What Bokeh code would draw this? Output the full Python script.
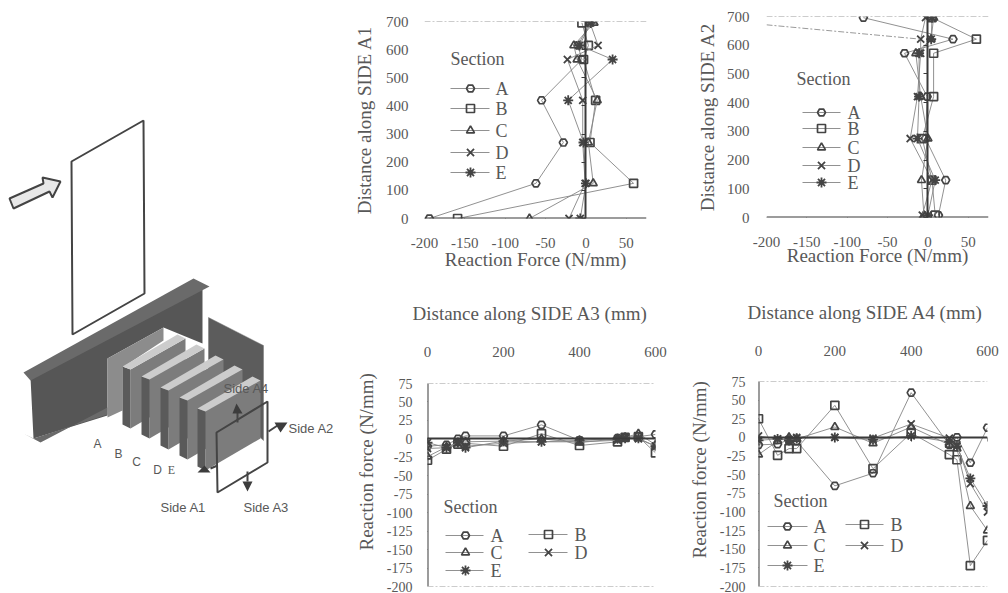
from bokeh.embed import file_html
from bokeh.resources import INLINE
from bokeh.plotting import figure
from bokeh.layouts import row, column
from bokeh.models import (LinearAxis, Range1d, FixedTicker, Span, Title)
from bokeh.core.properties import value

SECTIONS = ["A", "B", "C", "D", "E"]
MARKERS = ["hex", "square", "triangle", "x", "asterisk"]

# Panel A1
a1_y = [0, 125, 270, 420, 565, 615, 695]
a1_A = [-194, -62, -28, -55, -5, -10, 5]
a1_B = [-159, 59, 5, 12, -3, 3, -5]
a1_C = [-70, 9, 3, 14, -11, -15, 10]
a1_D = [-21, -1, -4, -4, -23, 15, 5]
a1_E = [-7, 0, -3, -22, 33, -8, 6]
# Panel A2
a2_y = [8, 130, 275, 421, 572, 621, 696]
a2_A = [13, 22, -3, -1, -29, 31, -80]
a2_B = [9, 5, -7, 7, 7, 60, 5]
a2_C = [-5, -8, 0, -9, -15, 4, 7]
a2_D = [-7, 5, -22, -13, -9, -9, -3]
a2_E = [0, 9, -13, -11, -11, 4, 5]
a2_off_x = [-200, -9]
a2_off_y = [671, 621]
# Panels A3, A4
side_x = [0, 50, 80, 100, 200, 300, 400, 500, 520, 555, 600]
a3_A = [-10, -8, 0, 4, 4, 19, -2, 1, 2, 3, 6]
a3_B = [-29, -14, -7, -6, -10, 7, -9, -4, 2, 3, -19]
a3_C = [-24, -11, -6, -4, -3, 0, -5, 0, 2, 7, -8]
a3_D = [-13, -12, -5, -10, -6, -4, -4, -2, 1, 0, -10]
a3_E = [-5, -12, -5, -12, -3, -4, -2, 0, 1, 1, -10]
a4_A = [-10, -9, -3, -5, -65, -48, 60, -10, 0, -34, 13]
a4_B = [25, -24, -15, -15, 43, -42, 6, -23, -30, -172, -138]
a4_C = [-23, -5, 0, -2, 14, -8, 14, -10, -15, -92, -125]
a4_D = [2, -2, -3, 0, 0, -1, 18, -1, -10, -62, -100]
a4_E = [-4, -2, -4, -1, 0, -3, 2, -6, -12, -55, -92]

A1_SERIES = [a1_A, a1_B, a1_C, a1_D, a1_E]
A2_SERIES = [a2_A, a2_B, a2_C, a2_D, a2_E]
A3_SERIES = [a3_A, a3_B, a3_C, a3_D, a3_E]
A4_SERIES = [a4_A, a4_B, a4_C, a4_D, a4_E]

force_ticks = [-200, -150, -100, -50, 0, 50]
dist_ticks = [0, 100, 200, 300, 400, 500, 600, 700]
side_ticks = [0, 200, 400, 600]
react_ticks = list(range(-200, 76, 25))

SERIF = "Liberation Serif"
SANS = "Liberation Sans"
TXT = "#585858"
AX = "#3a3a3a"
LN = "#858585"
MK = "#444444"
BG = "#ffffff"


def base(left, fw, right, top, fh, bottom, xr, yr):
    p = figure(width=left + fw + right, height=top + fh + bottom,
               frame_width=fw, frame_height=fh,
               x_range=Range1d(*xr), y_range=Range1d(*yr),
               x_axis_type=None, y_axis_type=None,
               toolbar_location=None, output_backend="svg",
               min_border_left=left, min_border_right=right,
               min_border_top=top, min_border_bottom=bottom,
               background_fill_color=BG, border_fill_color=BG,
               outline_line_color=None, frame_align=False)
    p.grid.visible = False
    return p


def label_axis(ticks, size, standoff, title=None, title_size="19px", title_standoff=4):
    ax = LinearAxis(ticker=FixedTicker(ticks=ticks), axis_line_color=None,
                    major_tick_line_color=None, minor_tick_line_color=None,
                    major_tick_out=0, major_tick_in=0,
                    major_label_standoff=standoff,
                    major_label_overrides={t: str(t) for t in ticks},
                    major_label_text_font=SERIF,
                    major_label_text_font_size=size,
                    major_label_text_color=TXT)
    if title:
        ax.axis_label = title
        ax.axis_label_text_font = SERIF
        ax.axis_label_text_font_style = "normal"
        ax.axis_label_text_font_size = title_size
        ax.axis_label_text_color = TXT
        ax.axis_label_standoff = title_standoff
    return ax


def rule_axis(ticks, loc):
    return LinearAxis(ticker=FixedTicker(ticks=ticks), fixed_location=loc,
                      axis_line_color=AX, axis_line_width=2,
                      major_tick_line_color=AX, major_tick_line_width=1,
                      major_tick_out=4, major_tick_in=0,
                      minor_tick_line_color=None,
                      major_label_text_color=None,
                      major_label_text_font_size="1px",
                      major_label_standoff=0)


def marker_style(mk):
    big = mk in ("x", "asterisk")
    return dict(marker=mk, size=10 if big else 8, fill_color=None, line_color=MK,
                line_width=1.8 if big else 1.7)


def series(p, horizontal_x, series_list, y_fixed=None):
    for mk, vals in zip(MARKERS, series_list):
        if y_fixed is not None:
            xs, ys = vals, y_fixed
        else:
            xs, ys = horizontal_x, vals
        p.line(xs, ys, line_color=LN, line_width=0.9)
        p.scatter(xs, ys, **marker_style(mk))


def draw_legend(p, frame_left, frame_top, fw, fh, title_pos, entries):
    """Key drawn at page-pixel places: entries hold (x0, x1, xm, xl, y) per section."""
    xr, yr = p.x_range, p.y_range
    fx = lambda px: xr.start + (px - frame_left) * (xr.end - xr.start) / fw
    fy = lambda py: yr.end - (py - frame_top) * (yr.end - yr.start) / fh
    p.text([fx(title_pos[0])], [fy(title_pos[1])], text=["Section"], text_font=value(SERIF),
           text_font_size="18px", text_color=TXT, text_baseline="middle")
    for name, mk, (x0, x1, xm, xl, y) in zip(SECTIONS, MARKERS, entries):
        p.line([fx(x0), fx(x1)], [fy(y), fy(y)], line_color=LN, line_width=0.9)
        p.scatter([fx(xm)], [fy(y)], **marker_style(mk))
        p.text([fx(xl)], [fy(y)], text=[name], text_font=value(SERIF),
               text_font_size="18px", text_color=TXT, text_baseline="middle")


def dashed(p, loc):
    p.add_layout(Span(location=loc, dimension="width", line_color="#9a9a9a",
                      line_width=1, line_dash="6 2 2 2"))


def add_title(p, text, side, offset, standoff):
    p.add_layout(Title(text=text, align="left", offset=offset, standoff=standoff,
                       vertical_align="middle", text_font=SERIF, text_font_style="normal",
                       text_font_size="19px", text_color=TXT), side)


def vertical_panel(left, fw, right, top, fh, bottom, s_list, ys, side, tick_sd, ttl_sd, below_sd):
    p = base(left, fw, right, top, fh, bottom, (-200, 75), (0, 700))
    p.add_layout(label_axis(force_ticks, "15px", 19, "Reaction Force (N/mm)", "19px", below_sd), "below")
    p.add_layout(label_axis(dist_ticks, "15px", tick_sd, f"Distance along SIDE {side}", "19px", ttl_sd), "left")
    p.add_layout(rule_axis(force_ticks, 0), "below")
    p.add_layout(rule_axis(dist_ticks, 0), "left")
    dashed(p, 700)
    series(p, None, s_list, y_fixed=ys)
    return p


def horizontal_panel(left, fw, right, top, fh, bottom, s_list, side, tick_sd, top_sd, title_off, ylabel_off, ylabel_sd):
    p = base(left, fw, right, top, fh, bottom, (0, 600), (-200, 75))
    p.add_layout(label_axis(side_ticks, "15px", top_sd), "above")
    p.add_layout(label_axis(react_ticks, "14px", tick_sd), "left")
    p.add_layout(rule_axis(side_ticks, 0), "below")
    p.add_layout(rule_axis(react_ticks, 0), "left")
    dashed(p, 75)
    dashed(p, -200)
    series(p, side_x, s_list)
    add_title(p, f"Distance along SIDE {side} (mm)", "above", title_off, 38)
    add_title(p, "Reaction force (N/mm)", "left", ylabel_off, ylabel_sd)
    return p


# x, y in page pixels for the drawing on the left
panel_x = [71, 143, 144, 72]
panel_y = [161, 120, 293, 334]
arrow_x = [9, 43, 42, 60, 52, 49, 13]
arrow_y = [198, 183, 177, 181, 197, 191, 208]
web_x = [30, 202, 202, 163, 107, 107, 33]
web_y = [377, 287, 343, 327, 358, 415, 438]
tf_x = [23, 193, 209, 30]
tf_y = [372, 278, 286, 380]
bf_x = [23, 40, 107, 107, 33]
bf_y = [433, 442, 407, 414, 438]
stiffA_x = [107, 163, 163, 122, 122, 107]
stiffA_y = [358, 327, 340, 367, 410, 417]
backp_x = [208, 263, 263, 208]
backp_y = [317, 345, 440, 390]
stiff_origin_x = [122, 141, 160, 179, 197]
stiff_origin_y = [366, 376, 387, 397, 408]
load_x = [216, 267, 267, 217]
load_y = [432, 401, 462, 492]


def illustration():
    p = figure(width=345, height=593, x_range=Range1d(0, 345), y_range=Range1d(593, 0),
               x_axis_type=None, y_axis_type=None, toolbar_location=None,
               output_backend="svg", min_border=0, outline_line_color=None,
               background_fill_color=BG, border_fill_color=BG, frame_align=False)
    p.grid.visible = False
    p.patch(panel_x, panel_y, fill_color=None, line_color="#444444", line_width=2)
    p.patch(arrow_x, arrow_y, fill_color="#e8e8e8", line_color="#444444", line_width=2)
    p.patch(backp_x, backp_y, fill_color="#5c5c5c", line_color="#777777", line_width=0.5)
    p.patch(web_x, web_y, fill_color="#565656", line_color=None)
    p.patch(tf_x, tf_y, fill_color="#6a6a6a", line_color=None)
    p.patch(bf_x, bf_y, fill_color="#6a6a6a", line_color=None)
    p.patch(stiffA_x, stiffA_y, fill_color="#8c8c8c", line_color=None)
    for ox, oy in zip(stiff_origin_x, stiff_origin_y):
        p.patch([ox + 8, ox + 63, ox + 63, ox + 8], [oy + 3, oy - 28, oy + 30, oy + 62],
                fill_color="#7c7c7c", line_color=None)
        p.patch([ox, ox + 8, ox + 8, ox], [oy, oy + 3, oy + 62, oy + 58],
                fill_color="#5a5a5a", line_color=None)
        p.patch([ox, ox + 55, ox + 63, ox + 8], [oy, oy - 32, oy - 28, oy + 3],
                fill_color="#cccccc", line_color=None)
    p.patch(load_x, load_y, fill_color=None, line_color="#444444", line_width=2)
    p.segment([237, 268, 247, 210], [422, 431, 471, 468], [237, 277, 247, 217], [410, 425, 481, 465],
              line_color="#444444", line_width=2)
    p.patches([[232, 242, 236], [274, 287, 280], [242, 252, 247], [197, 210, 204]],
              [[413, 413, 403], [422, 422, 432], [481, 481, 491], [472, 472, 465]],
              fill_color="#3c3c3c", line_color=None)
    p.text([223, 288, 160, 243], [388, 428, 507, 507],
           text=["Side A4", "Side A2", "Side A1", "Side A3"],
           text_font=value(SANS), text_font_size="13px", text_color=TXT, text_baseline="middle")
    p.text([97, 118, 136, 157], [443, 453, 461, 469], text=["A", "B", "C", "D"],
           text_font=value(SANS), text_font_size="12px", text_color=TXT,
           text_align="center", text_baseline="middle")
    p.text([171], [469], text=["E"], text_font=value(SERIF), text_font_size="12px", text_color=TXT,
           text_align="center", text_baseline="middle")
    return p


# column 1 starts at x=345, column 2 at x=675; second row starts at y=276
p1 = vertical_panel(79, 222, 29, 21, 197, 58, A1_SERIES, a1_y, "A1", 16, 8, -2)
draw_legend(p1, 424, 21, 222, 197, (450, 58), [(450, 489, 470, 495, y) for y in (88, 108, 130, 152, 172)])

p2 = vertical_panel(91, 222, 20, 16, 201, 59, A2_SERIES, a2_y, "A2", 17, 6, -5)
p2.line(a2_off_x, a2_off_y, line_color="#9a9a9a", line_width=1, line_dash="6 2 2 2")
draw_legend(p2, 766, 16, 222, 201, (796, 78), [(802, 840, 821, 847, y) for y in (112, 128, 147, 165, 182)])

p3 = horizontal_panel(82, 228, 20, 107, 203, 7, A3_SERIES, "A3", 15, 27, -15, 36, 12)
draw_legend(p3, 427, 383, 228, 203, (443, 506),
            [(445, 483, 465, 490, 535), (528, 567, 548, 574, 534), (445, 483, 465, 490, 552),
             (528, 567, 548, 574, 552), (445, 483, 465, 490, 570)])

p4 = horizontal_panel(83, 229, 21, 105, 205, 7, A4_SERIES, "A4", 13, 26, -11, 28, 11)
draw_legend(p4, 758, 381, 229, 205, (773, 500),
            [(767, 807, 787, 813, 526), (845, 883, 864, 890, 524), (767, 807, 787, 813, 545),
             (845, 883, 864, 890, 545), (767, 807, 787, 813, 565)])

layout = row(illustration(), column(p1, p3), column(p2, p4))
open("out.html", "w").write(file_html(layout, INLINE))
